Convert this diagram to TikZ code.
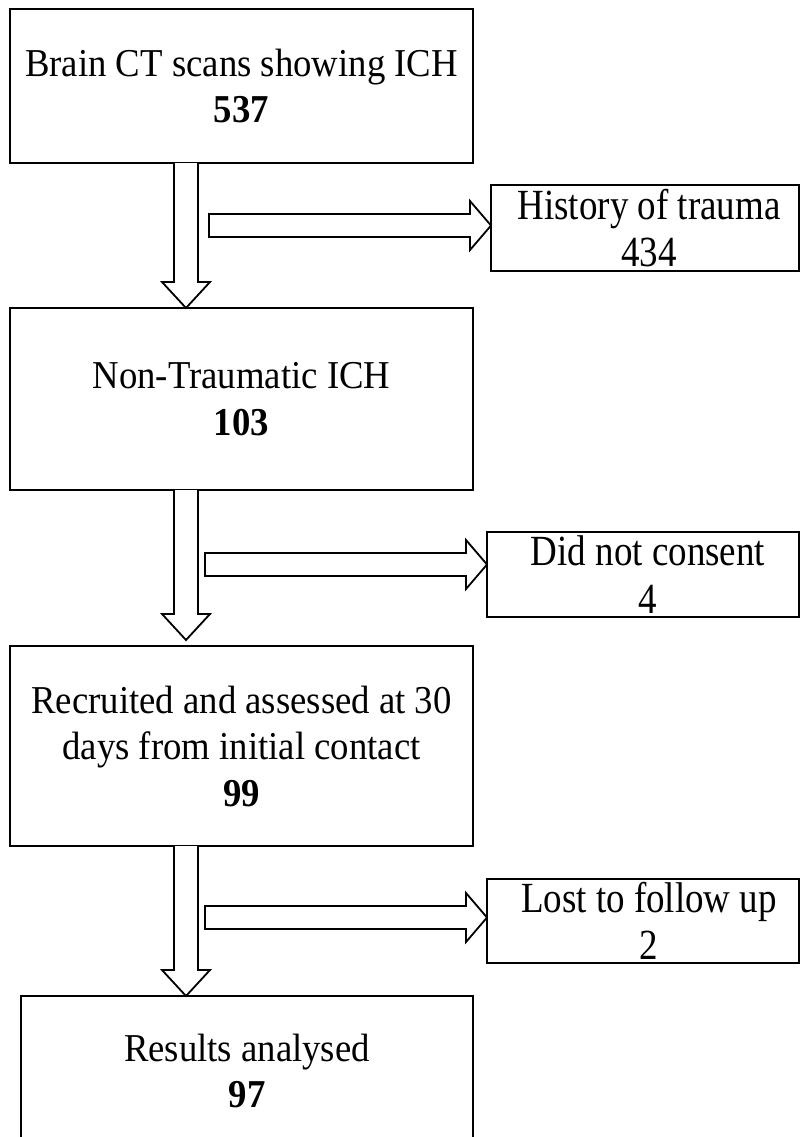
\documentclass[tikz,border=0pt]{standalone}
\usepackage{fontspec}
\setmainfont[FakeStretch=0.93]{Liberation Serif}
\newfontfamily\sidefont[FakeStretch=0.86]{Liberation Serif}
\usetikzlibrary{calc}
\tikzset{
  box/.style={draw, line width=2pt, fill=white, align=center, inner sep=0pt, outer sep=0pt,
    font=\fontsize{39.5}{46.5}\selectfont},
  sidebox/.style={box, font=\sidefont\fontsize{43}{47.5}\selectfont},
  barrow/.style={draw, line width=1.8pt, fill=white, line join=miter},
}
\newcommand{\downblock}[2]{%
  \draw[barrow] let \p1=(#1), \p2=(#2) in
    (\x1-12pt,\y1) -- (\x1-12pt,\y2+26pt) -- (\x1-24pt,\y2+26pt) -- (\x1,\y2)
    -- (\x1+24pt,\y2+26pt) -- (\x1+12pt,\y2+26pt) -- (\x1+12pt,\y1);}
\newcommand{\rightblock}[2]{%
  \draw[barrow] let \p1=(#1), \p2=(#2) in
    (\x1,\y1+11.5pt) -- (\x2-21pt,\y1+11.5pt) -- (\x2-21pt,\y1+24.5pt) -- (\x2,\y1)
    -- (\x2-21pt,\y1-24.5pt) -- (\x2-21pt,\y1-11.5pt) -- (\x1,\y1-11.5pt) -- cycle;}
\begin{document}
\begin{tikzpicture}[x=1pt,y=-1pt]
\clip (0,0) rectangle (801,1137);
% main boxes
\node[box, minimum width=463pt, minimum height=154pt] (b1) at (241.5,86)
  {Brain CT scans showing ICH\\\textbf{537}};
\node[box, minimum width=463pt, minimum height=182pt] (b2) at (241.5,399)
  {Non-Traumatic ICH\\\textbf{103}};
\node[box, minimum width=463pt, minimum height=200pt] (b3) at (241.5,746)
  {Recruited and assessed at 30\\days from initial contact\\\textbf{99}};
\node[box, minimum width=452pt, minimum height=150pt] (b5) at (247,1071)
  {Results analysed\\\textbf{97}};
% side boxes
\node[sidebox, minimum width=308pt, minimum height=86pt] (h1) at (645,228)
  {\hspace*{8pt}History of trauma\\\hspace*{8pt}434};
\node[sidebox, minimum width=312pt, minimum height=85pt] (h2) at (643,574.5)
  {\hspace*{10pt}Did not consent\\\hspace*{10pt}4};
\node[sidebox, minimum width=312pt, minimum height=84pt] (h3) at (643,921)
  {\hspace*{12pt}Lost to follow up\\\hspace*{12pt}2};
% down arrows
\coordinate (d1) at ($(b1.south west)+(176,0)$);
\coordinate (d2) at ($(b2.south west)+(176,0)$);
\coordinate (d3) at ($(b3.south west)+(176,0)$);
\coordinate (t2) at ($(d2 |- b3.north)+(0,-6)$);
\downblock{d1}{d1 |- b2.north}
\downblock{d2}{t2}
\downblock{d3}{d3 |- b5.north}
% right arrows
\coordinate (r1) at (209,225.5);
\coordinate (r2) at (205,564.5);
\coordinate (r3) at (205,917.5);
\rightblock{r1}{h1.west}
\rightblock{r2}{h2.west}
\rightblock{r3}{h3.west}
\end{tikzpicture}
\end{document}
